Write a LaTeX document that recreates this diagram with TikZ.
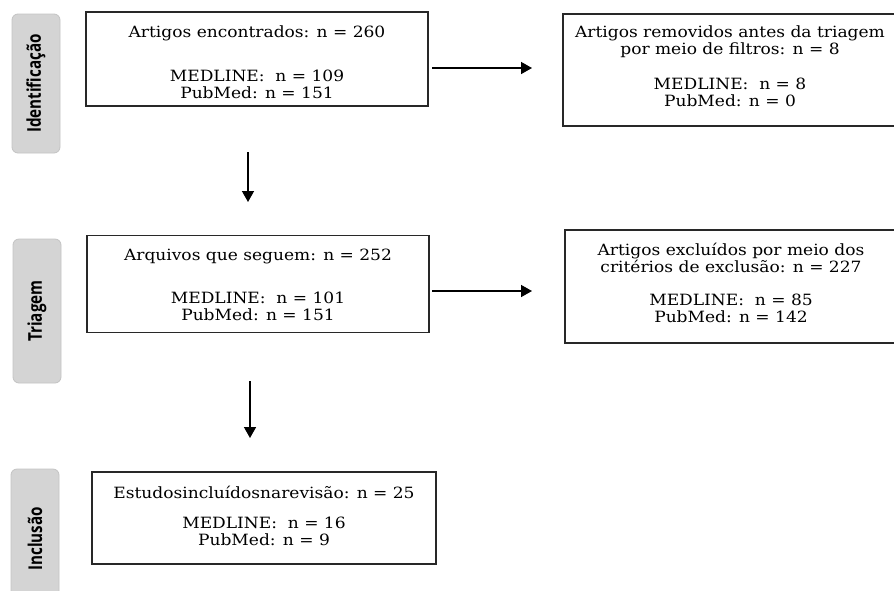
\documentclass[tikz,border=0pt]{standalone}
\usepackage{fontspec}
\setmainfont[FakeStretch=1.1]{DejaVu Serif}
\newfontfamily\tabfont[FakeStretch=0.8]{Open Sans}
\usetikzlibrary{arrows.meta}
\definecolor{tabfill}{RGB}{212,212,212}
\definecolor{tabline}{RGB}{195,195,195}
\definecolor{boxline}{RGB}{40,40,40}
\begin{document}
\begin{tikzpicture}[x=1pt,y=-1pt,
  frame/.style={draw=boxline, line width=1.3pt, inner sep=0pt},
  txt/.style={align=center, inner sep=0pt, font=\fontsize{15.5}{17}\selectfont},
  tab/.style={draw=tabline, fill=tabfill, rounded corners=6pt, rotate=90,
    line width=0.8pt, inner sep=0pt, text=black, font=\tabfont\bfseries\fontsize{19}{22}\selectfont},
  arr/.style={line width=1.5pt, -{Triangle[length=11pt,width=12pt]}}]
\useasboundingbox (0,0) rectangle (894,590);
% stage tabs
\node[tab, minimum width=139pt, minimum height=48pt] (t1) at (36,83.5) {Identificação};
\node[tab, minimum width=144pt, minimum height=48pt] (t2) at (37,311) {Triagem};
\node[tab, minimum width=140pt, minimum height=48pt] (t3) at (35,539) {Inclusão};
% boxes
\node[frame, minimum width=342pt, minimum height=94pt] (b1) at (257,59) {};
\node[txt] (b1t) at ([yshift=-3.5pt]b1.center)
  {Artigos encontrados: n = 260\\[27pt]MEDLINE:~~n = 109\\PubMed: n = 151};
\node[frame, minimum width=334pt, minimum height=112pt] (b2) at (730,70) {};
\node[txt] (b2t) at ([yshift=3.5pt]b2.center)
  {Artigos removidos antes da triagem\\por meio de filtros: n = 8\\[18pt]MEDLINE:~~n = 8\\PubMed: n = 0};
\node[frame, minimum width=342pt, minimum height=97pt] (b3) at (258,284) {};
\node[txt] (b3t) at ([yshift=-0.5pt]b3.center)
  {Arquivos que seguem: n = 252\\[26pt]MEDLINE:~~n = 101\\PubMed: n = 151};
\node[frame, minimum width=332pt, minimum height=113pt] (b4) at (731,286.5) {};
\node[txt] (b4t) at ([yshift=3.5pt]b4.center)
  {Artigos excluídos por meio dos\\critérios de exclusão: n = 227\\[16pt]MEDLINE:~~n = 85\\PubMed: n = 142};
\node[frame, minimum width=344pt, minimum height=92pt] (b5) at (264,518) {};
\node[txt] (b5t) at ([yshift=2.5pt]b5.center)
  {Estudosincluídosnarevisão: n = 25\\[13pt]MEDLINE:~~n = 16\\PubMed: n = 9};
% arrow ends
\coordinate (h1s) at (432,68);  \coordinate (h1e) at (532,68);
\coordinate (h2s) at (432,291); \coordinate (h2e) at (532,291);
\coordinate (v1s) at (248,152); \coordinate (v1e) at (248,202);
\coordinate (v2s) at (250,381); \coordinate (v2e) at (250,438);
\draw[arr] (h1s) -- (h1e);
\draw[arr] (h2s) -- (h2e);
\draw[arr] (v1s) -- (v1e);
\draw[arr] (v2s) -- (v2e);
\end{tikzpicture}
\end{document}
